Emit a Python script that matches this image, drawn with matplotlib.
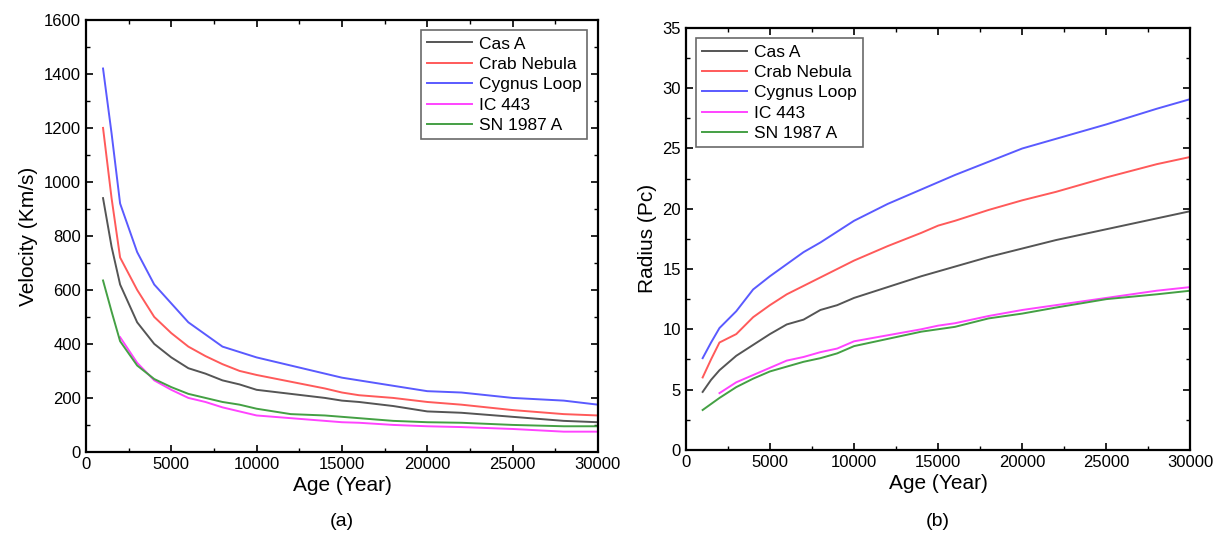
import matplotlib
matplotlib.use("Agg")
import matplotlib.pyplot as plt
from matplotlib.ticker import MultipleLocator

plt.rcParams['font.family'] = ['Liberation Sans', 'DejaVu Sans']

names = ["Cas A", "Crab Nebula", "Cygnus Loop", "IC 443", "SN 1987 A"]
colors = ["#555555", "#ff5a5a", "#5a5aff", "#ff44ff", "#44a044"]

age = [1000, 1500, 2000, 3000, 4000, 5000, 6000, 7000, 8000, 9000, 10000,
       12000, 14000, 15000, 16000, 18000, 20000, 22000, 25000, 28000, 30000]
age_ic = age[2:]

# velocity (km/s)
vel_cas = [940, 760, 620, 480, 400, 350, 310, 290, 265, 250, 230,
           215, 200, 190, 185, 170, 150, 145, 130, 115, 110]
vel_crab = [1200, 940, 720, 600, 500, 440, 390, 355, 325, 300, 285,
            260, 235, 220, 210, 200, 185, 175, 155, 140, 135]
vel_cyg = [1420, 1180, 920, 740, 620, 550, 480, 435, 390, 370, 350,
           320, 290, 275, 265, 245, 225, 220, 200, 190, 175]
vel_ic = [425, 330, 265, 230, 200, 185, 165, 150, 135,
          125, 115, 110, 108, 100, 95, 92, 85, 75, 75]
vel_sn = [635, 520, 410, 320, 270, 240, 215, 200, 185, 175, 160,
          140, 135, 130, 125, 115, 110, 108, 100, 95, 95]

# radius (pc)
rad_cas = [4.8, 5.8, 6.6, 7.8, 8.7, 9.6, 10.4, 10.8, 11.6, 12.0, 12.6,
           13.5, 14.4, 14.8, 15.2, 16.0, 16.7, 17.4, 18.3, 19.2, 19.8]
rad_crab = [6.0, 7.5, 8.9, 9.6, 11.0, 12.0, 12.9, 13.6, 14.3, 15.0, 15.7,
            16.9, 18.0, 18.6, 19.0, 19.9, 20.7, 21.4, 22.6, 23.7, 24.3]
rad_cyg = [7.6, 8.9, 10.1, 11.5, 13.3, 14.4, 15.4, 16.4, 17.2, 18.1, 19.0,
           20.4, 21.6, 22.2, 22.8, 23.9, 25.0, 25.8, 27.0, 28.3, 29.1]
rad_ic = [4.7, 5.6, 6.2, 6.8, 7.4, 7.7, 8.1, 8.4, 9.0,
          9.5, 10.0, 10.3, 10.5, 11.1, 11.6, 12.0, 12.6, 13.2, 13.5]
rad_sn = [3.3, 3.8, 4.3, 5.2, 5.9, 6.5, 6.9, 7.3, 7.6, 8.0, 8.6,
          9.2, 9.8, 10.0, 10.2, 10.9, 11.3, 11.8, 12.5, 12.9, 13.2]

vel = [(age, vel_cas), (age, vel_crab), (age, vel_cyg), (age_ic, vel_ic), (age, vel_sn)]
rad = [(age, rad_cas), (age, rad_crab), (age, rad_cyg), (age_ic, rad_ic), (age, rad_sn)]

fig = plt.figure(figsize=(12.16, 5.38), dpi=100)
ax1 = fig.add_axes([0.0707, 0.160, 0.421, 0.803])
ax2 = fig.add_axes([0.564, 0.164, 0.415, 0.784])


def style(ax, ymax, ymaj, ymin):
    ax.set_xlim(0, 30000)
    ax.set_ylim(0, ymax)
    ax.xaxis.set_major_locator(MultipleLocator(5000))
    ax.xaxis.set_minor_locator(MultipleLocator(2500))
    ax.yaxis.set_major_locator(MultipleLocator(ymaj))
    ax.yaxis.set_minor_locator(MultipleLocator(ymin))
    ax.tick_params(which="both", direction="in", top=True, right=True, labelsize=12)
    ax.tick_params(which="major", length=5, width=1.2)
    ax.tick_params(which="minor", length=3, width=1)
    for s in ax.spines.values():
        s.set_linewidth(1.6)
    ax.set_xlabel("Age (Year)", fontsize=15, labelpad=3)


for (x, y), n, c in zip(vel, names, colors):
    ax1.plot(x, y, color=c, lw=1.4, label=n)
for (x, y), n, c in zip(rad, names, colors):
    ax2.plot(x, y, color=c, lw=1.4, label=n)

style(ax1, 1600, 200, 100)
style(ax2, 35, 5, 2.5)
ax1.set_ylabel("Velocity (Km/s)", fontsize=15)
ax2.set_ylabel("Radius (Pc)", fontsize=15)

for ax, loc in [(ax1, "upper right"), (ax2, "upper left")]:
    leg = ax.legend(loc=loc, fontsize=12.5, fancybox=False, edgecolor="#444444",
                    handlelength=2.6, borderpad=0.35, labelspacing=0.3,
                    handletextpad=0.4, borderaxespad=0.6)
    leg.get_frame().set_linewidth(1.2)

fig.text(0.281, 0.022, "(a)", ha="center", fontsize=14)
fig.text(0.771, 0.022, "(b)", ha="center", fontsize=14)

fig.savefig("out.png", dpi=100)
